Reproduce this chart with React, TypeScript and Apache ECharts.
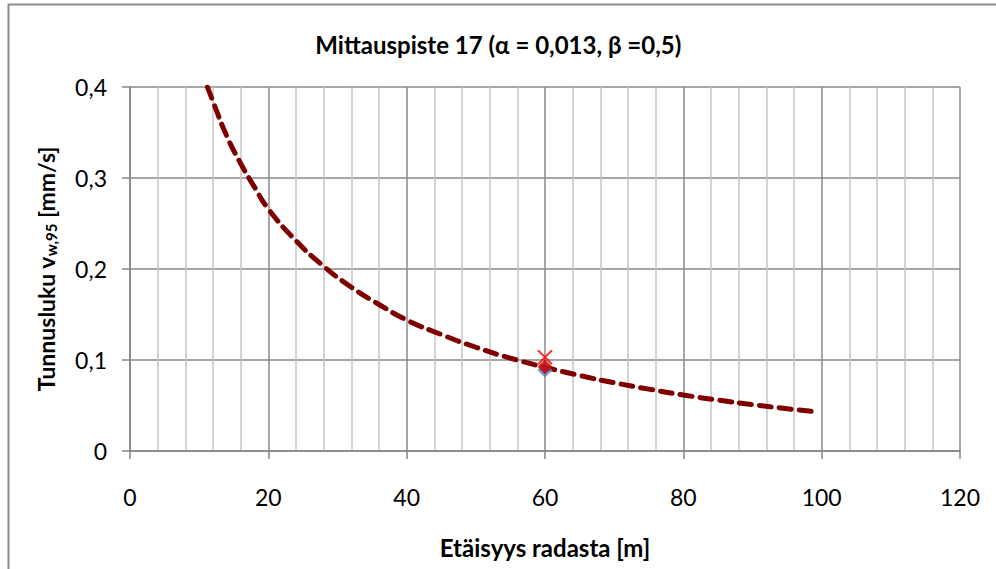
import React, { useEffect, useRef } from "react";
import * as echarts from "echarts";

const titleText = "Mittauspiste 17 (α = 0,013, β =0,5)";
const xAxisTitle = "Etäisyys radasta [m]";
const distances = [11.2, 12, 14, 16, 18, 20, 24, 28, 32, 36, 40, 45, 50, 55, 60, 65, 70, 75, 80, 85, 90, 95, 99];
const curveValues = [0.4, 0.384, 0.346, 0.316, 0.29, 0.266, 0.231, 0.203, 0.18, 0.161, 0.144, 0.128, 0.114, 0.102, 0.092, 0.083, 0.075, 0.068, 0.0615, 0.056, 0.051, 0.0465, 0.0432];
const measuredBlue: [number, number][] = [[60, 0.089]];
const measuredRed: [number, number][] = [[60, 0.0925]];
const limitCross: [number, number][] = [[60, 0.103]];

const FONT = "Lato, 'Noto Sans', sans-serif";

export default function App() {
  const ref = useRef<HTMLDivElement>(null);
  useEffect(() => {
    document.body.style.margin = "0";
    const chart = echarts.init(ref.current!, undefined, { renderer: "svg" });
    const curve = distances.map((d, i) => [d, curveValues[i]]);
    chart.setOption({
      animation: false,
      backgroundColor: "#ffffff",
      textStyle: { fontFamily: FONT },
      graphic: [
        {
          type: "rect",
          shape: { x: 8.5, y: 4.5, width: 1100, height: 700 },
          style: { fill: "none", stroke: "#8c8c8c", lineWidth: 2 },
          silent: true,
          z: 100,
        },
        {
          type: "text",
          left: "center",
          top: 32,
          style: { text: titleText, font: `bold 24px ${FONT}`, fill: "#000" },
        },
      ],
      grid: { left: 130, right: 36, top: 87, bottom: 118, containLabel: false },
      xAxis: {
        type: "value",
        min: 0,
        max: 120,
        interval: 20,
        name: xAxisTitle,
        nameLocation: "middle",
        nameGap: 84,
        nameTextStyle: { fontFamily: FONT, fontWeight: "bold", fontSize: 24, color: "#000" },
        axisLine: { show: true, onZero: false, lineStyle: { color: "#868686", width: 1.5 } },
        axisTick: { show: true, inside: false, length: 8, lineStyle: { color: "#868686", width: 1.5 } },
        axisLabel: { fontFamily: FONT, fontSize: 23, color: "#000", margin: 34 },
        splitLine: { show: true, lineStyle: { color: "#8a8a8a", width: 1.5 } },
        minorTick: { show: false, splitNumber: 5 },
        minorSplitLine: { show: true, lineStyle: { color: "#c4c4c4", width: 1.5 } },
      },
      yAxis: {
        type: "value",
        min: 0,
        max: 0.4,
        interval: 0.1,
        name: "Tunnusluku v{sub|w,95} [mm/s]",
        nameLocation: "middle",
        nameGap: 72,
        nameRotate: 90,
        nameTextStyle: {
          fontFamily: FONT,
          fontWeight: "bold",
          fontSize: 23,
          color: "#000",
          rich: {
            sub: { fontFamily: FONT, fontWeight: "bold", fontSize: 15, color: "#000", verticalAlign: "bottom", padding: [10, 0, 0, 0] },
          },
        },
        axisLine: { show: true, lineStyle: { color: "#868686", width: 1.5 } },
        axisTick: { show: true, inside: false, length: 8, lineStyle: { color: "#868686", width: 1.5 } },
        axisLabel: {
          fontFamily: FONT,
          fontSize: 23,
          color: "#000",
          margin: 23,
          formatter: (v: number) => (v === 0 ? "0" : v.toFixed(1).replace(".", ",")),
        },
        splitLine: { show: true, lineStyle: { color: "#8a8a8a", width: 1.5 } },
      },
      series: [
        {
          type: "line",
          data: curve,
          smooth: true,
          showSymbol: false,
          symbol: "none",
          lineStyle: { color: "#800000", width: 5, type: [12, 8], cap: "round" },
          z: 3,
        },
        {
          type: "scatter",
          data: measuredBlue,
          symbol: "diamond",
          symbolSize: 15,
          itemStyle: { color: "#4f81bd" },
          z: 4,
        },
        {
          type: "scatter",
          data: measuredRed,
          symbol: "diamond",
          symbolSize: 15,
          itemStyle: { color: "#cc0000" },
          z: 5,
        },
        {
          type: "scatter",
          data: limitCross,
          symbol: "path://M0,0L10,10M10,0L0,10",
          symbolSize: 14,
          itemStyle: { color: "none", borderColor: "#ff0000", borderWidth: 2 },
          z: 6,
        },
      ],
    });
    return () => chart.dispose();
  }, []);
  return <div ref={ref} style={{ width: 996, height: 569, position: "absolute", left: 0, top: 0 }} />;
}
